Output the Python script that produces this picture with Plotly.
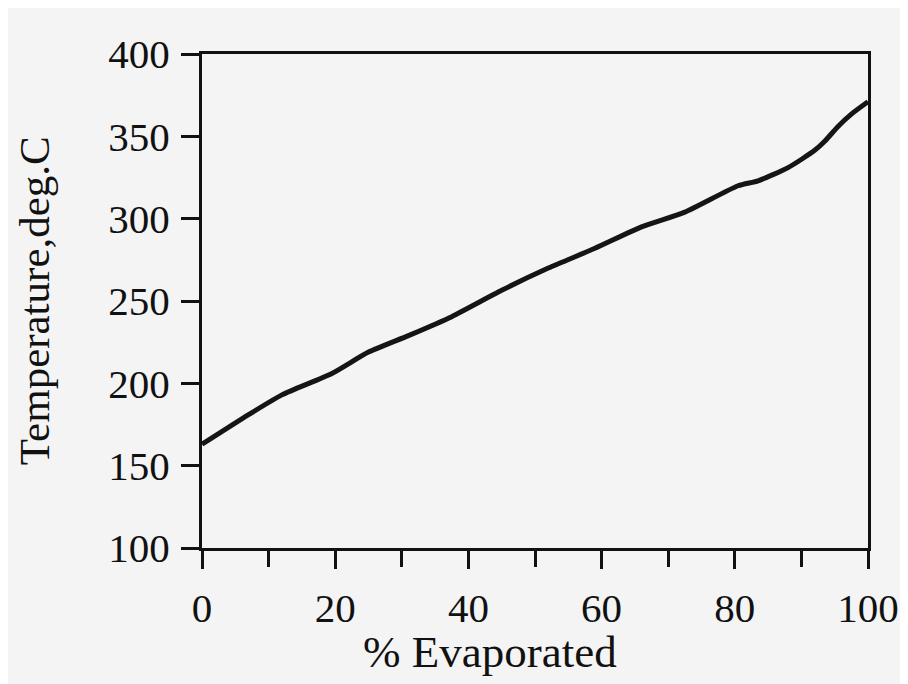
import plotly.graph_objects as go

# Data read from the (slightly rotated) scanned chart
pct_evaporated = [0, 7, 12, 19.5, 25, 31, 37.5, 45, 52, 59, 66, 72.5, 80.5, 83.5, 88, 92, 93.5, 95.5, 97.5, 100]
temperature_c = [163, 181, 193, 206, 219, 229, 240.5, 256.5, 270, 282, 295, 304, 320, 323, 331, 341.5, 347, 356, 363.5, 371]

x_ticks = [0, 20, 40, 60, 80, 100]
y_ticks = [100, 150, 200, 250, 300, 350, 400]

BG = "#f4f4f4"
FONT = "Liberation Serif, Times New Roman, serif"

fig = go.Figure()
fig.add_trace(go.Scatter(
    x=pct_evaporated, y=temperature_c, mode="lines",
    line=dict(color="#151515", width=5, shape="spline", smoothing=0.6),
    showlegend=False, hoverinfo="skip",
))

fig.update_xaxes(
    range=[0, 100], tickvals=x_ticks, ticktext=[str(v) for v in x_ticks],
    minor=dict(dtick=10, ticks="outside", ticklen=16, tickwidth=3, tickcolor="#111"),
    ticks="outside", ticklen=18, tickwidth=3, tickcolor="#111",
    showline=True, linecolor="#111", linewidth=3, mirror=True,
    showgrid=False, zeroline=False,
    tickfont=dict(family=FONT, size=41, color="#111"),
    ticklabelstandoff=4, ticklabeloverflow="allow", automargin=False,
)
fig.update_yaxes(
    range=[100, 400], tickvals=y_ticks, ticktext=[str(v) for v in y_ticks],
    ticks="outside", ticklen=18, tickwidth=3, tickcolor="#111",
    showline=True, linecolor="#111", linewidth=3, mirror=True,
    showgrid=False, zeroline=False,
    tickfont=dict(family=FONT, size=41, color="#111"),
    ticklabelstandoff=3,
)

fig.add_annotation(
    text="% Evaporated", xref="paper", yref="paper",
    x=0.432, y=-0.21, xanchor="center", yanchor="middle", showarrow=False,
    font=dict(family=FONT, size=45, color="#111"),
)
fig.add_annotation(
    text="Temperature,deg.C", xref="paper", yref="paper",
    x=-0.252, y=0.5, xanchor="center", yanchor="middle", showarrow=False,
    textangle=-90,
    font=dict(family=FONT, size=43, color="#111"),
)

fig.update_layout(
    width=900, height=676,
    margin=dict(l=194, r=40, t=46, b=136),
    paper_bgcolor=BG, plot_bgcolor=BG,
)

fig.write_html("out.html")
